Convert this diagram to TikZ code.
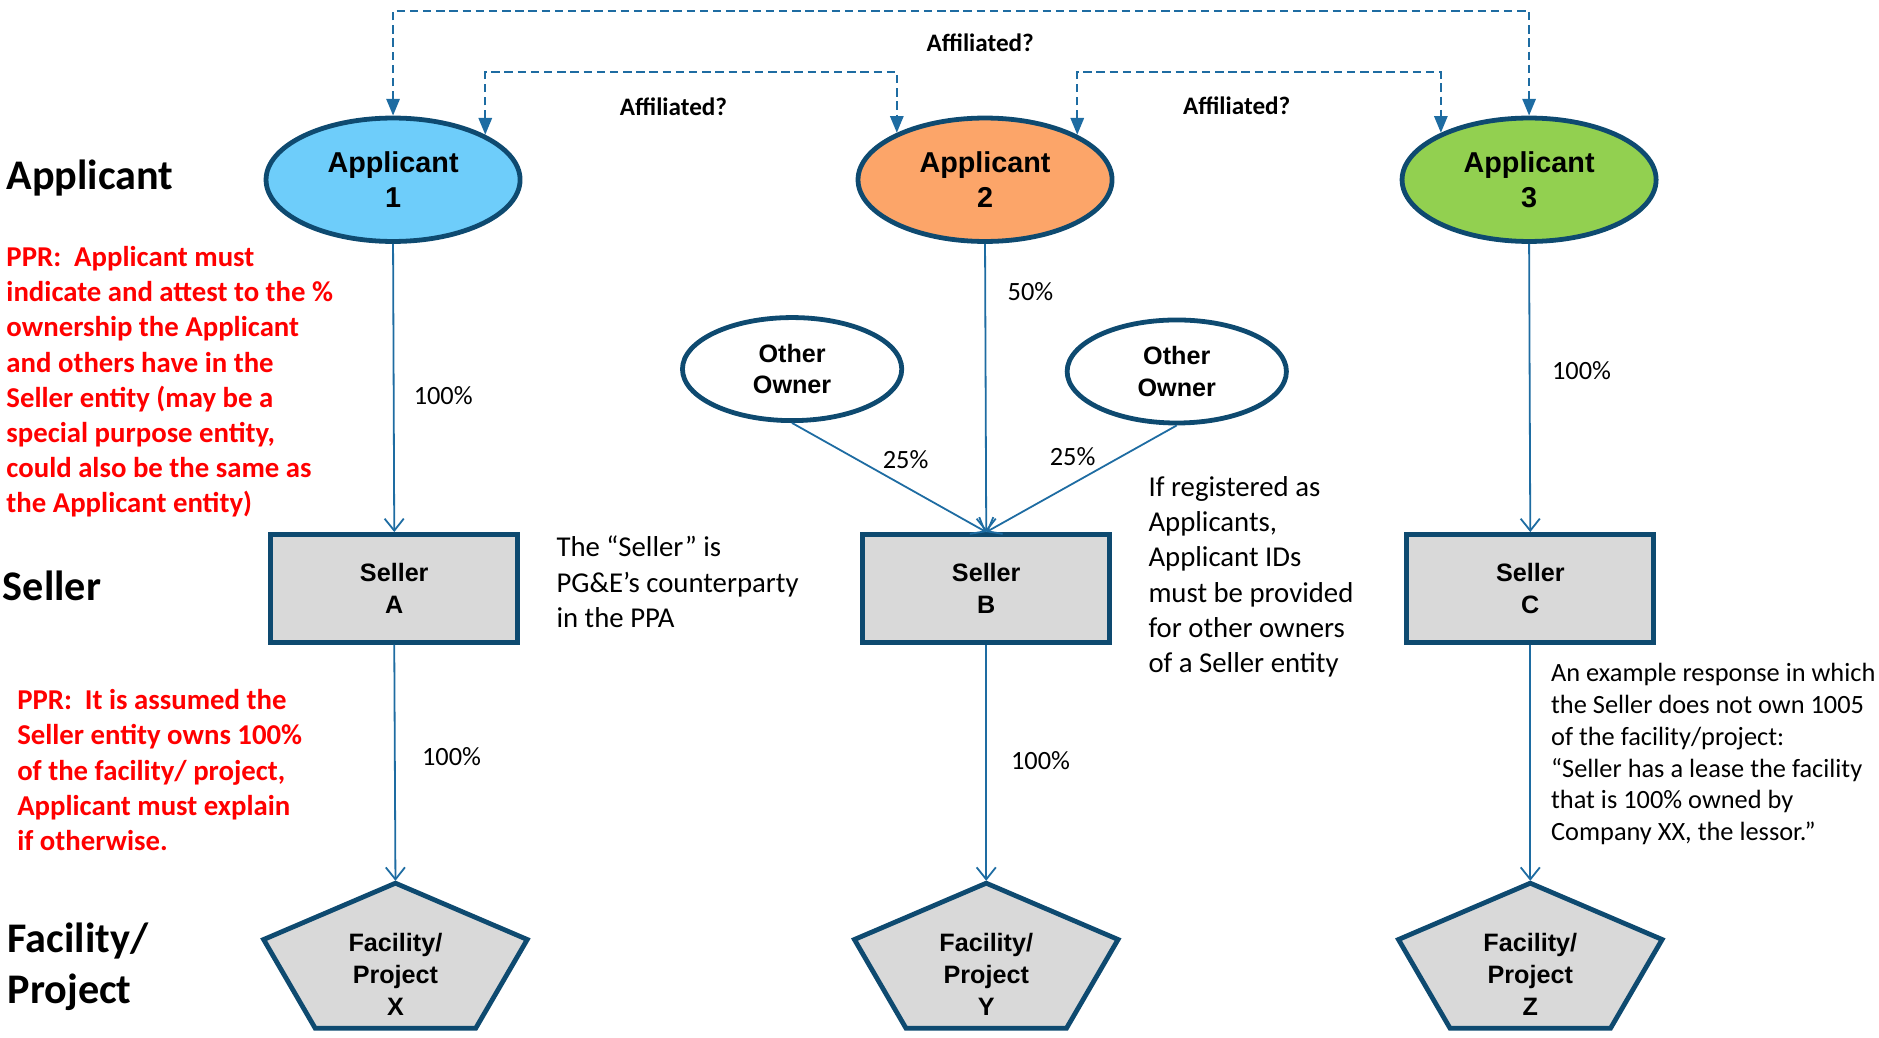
\documentclass[tikz,border=0pt]{standalone}
\usepackage{fontspec}
\setmainfont{Carlito}
\newfontfamily\arialfont{Liberation Sans}
\usetikzlibrary{shapes.geometric,arrows.meta}

\definecolor{edgeblue}{RGB}{14,74,112}
\definecolor{linkblue}{RGB}{30,108,162}
\definecolor{appone}{RGB}{110,205,250}
\definecolor{apptwo}{RGB}{252,165,105}
\definecolor{appthree}{RGB}{146,208,80}
\definecolor{sellergray}{RGB}{217,217,217}
\definecolor{pprred}{RGB}{255,0,0}

\begin{document}
\begin{tikzpicture}[x=0.5pt,y=-0.5pt,
	party/.style={ellipse,draw=edgeblue,line width=2pt,minimum width=106pt,minimum height=51.5pt,inner sep=0pt,align=center,font=\arialfont\bfseries\fontsize{12}{14.5}\selectfont},
	owner/.style={ellipse,draw=edgeblue,line width=2pt,fill=white,minimum width=91.5pt,minimum height=43pt,inner sep=0pt,align=center,font=\arialfont\bfseries\fontsize{10.5}{13}\selectfont},
	sellerbox/.style={rectangle,draw=edgeblue,line width=2pt,fill=sellergray,minimum width=103pt,minimum height=45pt,inner sep=0pt,align=center,font=\arialfont\bfseries\fontsize{10.5}{13.5}\selectfont},
	pentbox/.style={draw=edgeblue,line width=2pt,fill=sellergray,line join=miter},
	factext/.style={align=center,inner sep=0pt,font=\arialfont\bfseries\fontsize{10.5}{13.25}\selectfont},
	own/.style={draw=linkblue,line width=0.75pt,-{Straight Barb[length=5pt,width=8pt]}},
	aff/.style={draw=linkblue,line width=1pt,dash pattern=on 3.5pt off 2pt,{Triangle[length=7pt,width=5.5pt]}-{Triangle[length=7pt,width=5.5pt]}},
	pct/.style={inner sep=1pt,font=\fontsize{11}{13}\selectfont},
	afflabel/.style={inner sep=0pt,font=\bfseries\fontsize{10.5}{12}\selectfont},
	rowlabel/.style={align=left,inner sep=0pt,font=\bfseries\fontsize{17.6}{21}\selectfont},
	ppr/.style={anchor=north west,align=left,inner sep=0pt,text=pprred,font=\bfseries\fontsize{12}{14.7}\selectfont},
	note/.style={anchor=north west,align=left,inner sep=0pt,font=\fontsize{12}{14.75}\selectfont}]

		\useasboundingbox (0,0) rectangle (1568,866);

		% Applicants
		\node[party,fill=appone] (a1) at (328,150) {Applicant\\1};
		\node[party,fill=apptwo] (a2) at (822,150) {Applicant\\2};
		\node[party,fill=appthree] (a3) at (1276,150) {Applicant\\3};

		% Other owners
		\node[owner] (oo1) at (661,308) {Other\\Owner};
		\node[owner] (oo2) at (982,310) {Other\\Owner};

		% Sellers
		\node[sellerbox] (sa) at (329,491) {Seller\\A};
		\node[sellerbox] (sb) at (823,491) {Seller\\B};
		\node[sellerbox] (sc) at (1277,491) {Seller\\C};

		% Facilities (pentagons)
		\foreach \n/\x/\l in {fx/330/X, fy/823/Y, fz/1277/Z} {
			\filldraw[pentbox] (\x,737) -- (\x+110,784) -- (\x+67,858) -- (\x-67,858) -- (\x-110,784) -- cycle;
			\coordinate (\n top) at (\x,735);
			\node[factext] (\n) at (\x,813) {Facility/\\Project\\\l};
		}

		% Ownership links
		\draw[own] (a1.south) -- node[pct,pos=0.525,right=7pt] {100\%} (sa.north);
		\draw[own] (sa.south) -- node[pct,pos=0.475,right=10pt] {100\%} (fxtop);
		\draw[own] (a2.south) -- node[pct,pos=0.167,right=8pt] {50\%} (sb.north);
		\draw[own] (oo1.south) -- node[pct,pos=0.45,above right] {25\%} (sb.north);
		\draw[own] (oo2.south) -- node[pct,pos=0.41,above left] {25\%} (sb.north);
		\draw[own] (sb.south) -- node[pct,pos=0.49,right=9pt] {100\%} (fytop);
		\draw[own] (a3.south) -- node[pct,pos=0.44,right=8pt] {100\%} (sc.north);
		\draw[own] (sc.south) -- (fztop);

		% Affiliation links
		\draw[aff] (a1.north) |- (800,9) -| (a3.north);
		\draw[aff] (a1.26) |- (575,60) -| (a2.152);
		\draw[aff] (a2.26) |- (1050,60) -| (a3.152);
		\node[afflabel] (aff13) at (818,36) {Affiliated?};
		\node[afflabel] (aff12) at (562,89) {Affiliated?};
		\node[afflabel] (aff23) at (1032,88) {Affiliated?};

		% Row labels
		\node[rowlabel,anchor=base west] (rowapp) at (5,158) {Applicant};
		\node[rowlabel,anchor=base west] (rowsel) at (2,501) {Seller};
		\node[rowlabel,anchor=north west] (rowfac) at (6,770) {Facility/\\Project};

		% PPR notes
		\node[ppr] (ppra) at (5,205) {PPR:\ \ Applicant must\\indicate and attest to the \%\\ownership the Applicant\\and others have in the\\Seller entity (may be a\\special purpose entity,\\could also be the same as\\the Applicant entity)};
		\node[ppr] (pprb) at (14,575) {PPR:\ \ It is assumed the\\Seller entity owns 100\%\\of the facility/ project,\\Applicant must explain\\if otherwise.};

		% Remarks
		\node[note] (notea) at (464,447) {The “Seller” is\\PG\&E’s counterparty\\in the PPA};
		\node[note] (noteb) at (958,397) {If registered as\\Applicants,\\Applicant IDs\\must be provided\\for other owners\\of a Seller entity};
		\node[note,font=\fontsize{11}{13.3}\selectfont] (notec) at (1294,553) {An example response in which\\the Seller does not own 1005\\of the facility/project:\\“Seller has a lease the facility\\that is 100\% owned by\\Company XX, the lessor.”};

	\end{tikzpicture}
\end{document}
